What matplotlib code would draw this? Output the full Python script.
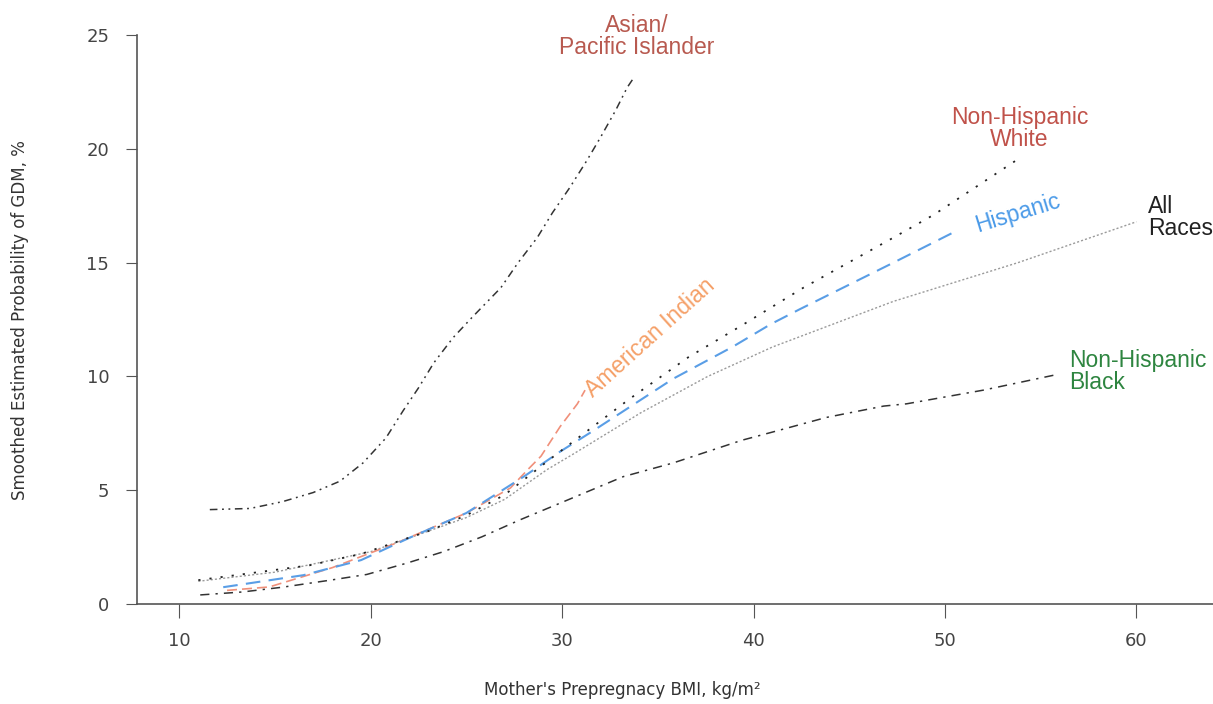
import numpy as np
import matplotlib
matplotlib.use("Agg")
import matplotlib.pyplot as plt

# BMI (x) and smoothed GDM probability (%)
asian_x = [11.6, 13.7, 15.4, 17.0, 18.4, 19.6, 20.8, 21.7, 22.5, 23.3, 24.3, 25.3,
           26.8, 27.7, 28.7, 29.5, 30.4, 31.3, 32.0, 32.8, 33.4, 33.8]
asian_y = [4.15, 4.2, 4.5, 4.9, 5.4, 6.2, 7.3, 8.5, 9.5, 10.6, 11.7, 12.6,
           13.9, 15.0, 16.1, 17.2, 18.3, 19.5, 20.5, 21.7, 22.7, 23.2]

white_x = [11, 16.8, 19.5, 23, 25, 27, 29.5, 33.5, 36.6, 39.3, 42.6, 47.3, 49.4, 53.9]
white_y = [1.05, 1.7, 2.2, 3.2, 3.9, 4.8, 6.45, 9.0, 10.85, 12.2, 13.9, 16.1, 17.1, 19.6]

hisp_x = [12.3, 16.5, 19.5, 22, 25, 28, 29.9, 31.6, 35.8, 38.9, 40.9, 42.4, 47.3, 50.6]
hisp_y = [0.74, 1.27, 1.93, 2.9, 4.0, 5.6, 6.7, 7.6, 9.9, 11.3, 12.3, 12.95, 15.0, 16.4]

allr_x = [11, 15, 20, 25, 27, 29.2, 30.6, 34.1, 37.6, 41.0, 47.3, 53.8, 60]
allr_y = [1.0, 1.4, 2.3, 3.8, 4.6, 5.9, 6.6, 8.4, 10.0, 11.3, 13.3, 15.0, 16.8]

amind_x = [12.5, 14.7, 18, 21.4, 25, 27.3, 28.2, 28.9, 29.9, 30.8, 31.2]
amind_y = [0.6, 0.75, 1.6, 2.7, 4.0, 5.1, 5.9, 6.5, 7.8, 8.8, 9.4]

black_x = [11.1, 13.3, 15.4, 17.9, 19.8, 21.9, 23.8, 25.8, 27.8, 29.8, 33.2, 35.8,
           39.4, 41.0, 43.8, 46.8, 48.0, 52.0, 55.7]
black_y = [0.4, 0.53, 0.74, 1.05, 1.3, 1.8, 2.3, 2.95, 3.7, 4.4, 5.6, 6.2,
           7.2, 7.56, 8.2, 8.7, 8.8, 9.4, 10.06]

xticks = [10, 20, 30, 40, 50, 60]
yticks = [0, 5, 10, 15, 20, 25]

fig = plt.figure(figsize=(12.13, 7.04), dpi=100)
ax = fig.add_axes([0.113, 0.142, 0.887, 0.808])

ax.plot(allr_x, allr_y, color="#9a9a9a", lw=1.0, ls=(0, (1.5, 1.5)))
ax.plot(amind_x, amind_y, color="#f0907a", lw=1.2, ls=(0, (6, 3)))
ax.plot(black_x, black_y, color="#333333", lw=1.1, ls=(0, (6, 4, 1.5, 4)))
ax.plot(hisp_x, hisp_y, color="#5a9ee6", lw=1.5, ls=(0, (7, 4)))
ax.plot(white_x, white_y, color="#222222", lw=1.3, ls=(0, (1.2, 5)))
ax.plot(asian_x, asian_y, color="#333333", lw=1.1, ls=(0, (5, 3, 1.2, 3, 1.2, 3)))

lab = dict(family="Liberation Sans", fontsize=16.5, clip_on=False)
ax.text(33.9, 24.95, "Asian/\nPacific Islander", color="#b85a50", ha="center",
        va="center", linespacing=0.95, **lab)
ax.text(53.9, 20.9, "Non-Hispanic\nWhite", color="#c0524a", ha="center",
        va="center", linespacing=0.95, **lab)
ax.text(53.8, 17.2, "Hispanic", color="#4a9ae8", ha="center", va="center",
        rotation=17, **lab)
ax.text(60.6, 17.0, "All\nRaces", color="#222222", ha="left", va="center",
        linespacing=0.95, **lab)
ax.text(56.5, 10.2, "Non-Hispanic\nBlack", color="#2e8540", ha="left",
        va="center", linespacing=0.95, **lab)
ax.text(34.6, 11.7, "American Indian", color="#f5a068", ha="center",
        va="center", rotation=42, **lab)

ax.set_xlim(7.8, 64.0)
ax.set_ylim(0, 25)
ax.set_xticks(xticks)
ax.set_yticks(yticks)
ax.spines["top"].set_visible(False)
ax.spines["right"].set_visible(False)
for s in ("left", "bottom"):
    ax.spines[s].set_color("#555555")
    ax.spines[s].set_linewidth(1.2)
ax.tick_params(axis="x", length=10, pad=10, colors="#555555", labelsize=13)
ax.tick_params(axis="y", length=8, pad=12, colors="#555555", labelsize=13)
for t in ax.get_xticklabels() + ax.get_yticklabels():
    t.set_color("#444444")

ax.set_xlabel("Mother's Prepregnacy BMI, kg/m²", fontsize=12, color="#333333")
ax.xaxis.set_label_coords(0.451, -0.151)
ax.xaxis.label.set_va("center")
ax.set_ylabel("Smoothed Estimated Probability of GDM, %", fontsize=12,
              color="#333333")
ax.yaxis.set_label_coords(-0.109, 0.5)
ax.yaxis.label.set_va("center")

fig.savefig("out.png", dpi=100)
